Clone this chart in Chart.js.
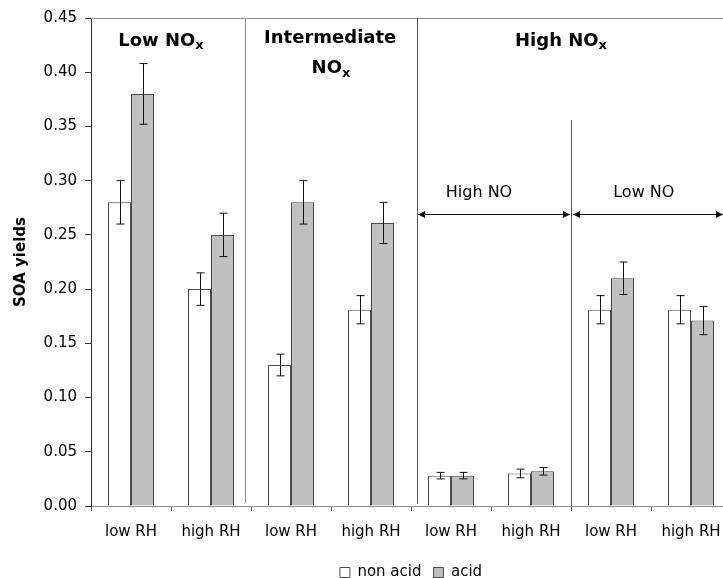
<!DOCTYPE html>
<html>
<head>
<meta charset="utf-8">
<script src="https://cdn.jsdelivr.net/npm/chart.js@4"></script>
<style>
  html, body { margin: 0; padding: 0; overflow: hidden; background: #fff; }
</style>
</head>
<body>
<canvas id="chart" width="745" height="590"></canvas>
<script>
var categories = ["low RH", "high RH", "low RH", "high RH", "low RH", "high RH", "low RH", "high RH"];
var nonAcid = [0.28, 0.20, 0.13, 0.181, 0.028, 0.030, 0.181, 0.181];
var acid = [0.38, 0.25, 0.28, 0.261, 0.028, 0.032, 0.21, 0.171];
var nonAcidErr = [0.02, 0.015, 0.01, 0.013, 0.003, 0.004, 0.013, 0.013];
var acidErr = [0.028, 0.02, 0.02, 0.019, 0.003, 0.0035, 0.015, 0.013];
var yTicks = [0, 0.05, 0.10, 0.15, 0.20, 0.25, 0.30, 0.35, 0.40, 0.45];

var FONT = "'DejaVu Sans', sans-serif";

// error bars on top of each bar
var errorBars = {
  id: "errorBars",
  afterDatasetsDraw: function (chart) {
    var ctx = chart.ctx;
    var y = chart.scales.y;
    var errs = [nonAcidErr, acidErr];
    ctx.save();
    ctx.strokeStyle = "#111";
    ctx.lineWidth = 1;
    chart.data.datasets.forEach(function (ds, d) {
      var meta = chart.getDatasetMeta(d);
      meta.data.forEach(function (bar, i) {
        var v = ds.data[i];
        var e = errs[d][i];
        var x = Math.round(bar.x) + 0.5;
        var top = y.getPixelForValue(v + e);
        var bot = y.getPixelForValue(v - e);
        ctx.beginPath();
        ctx.moveTo(x, top); ctx.lineTo(x, bot);
        ctx.moveTo(x - 4, top); ctx.lineTo(x + 4, top);
        ctx.moveTo(x - 4, bot); ctx.lineTo(x + 4, bot);
        ctx.stroke();
      });
    });
    ctx.restore();
  }
};

function arrowHead(ctx, x, y, dir) {
  ctx.beginPath();
  ctx.moveTo(x, y);
  ctx.lineTo(x - dir * 7, y - 3.5);
  ctx.lineTo(x - dir * 7, y + 3.5);
  ctx.closePath();
  ctx.fill();
}

function subTitle(ctx, text, cx, cy) {
  ctx.font = "bold 18px " + FONT;
  var w1 = ctx.measureText(text).width;
  ctx.font = "bold 13px " + FONT;
  var w2 = ctx.measureText("x").width;
  var x0 = cx - (w1 + w2) / 2;
  ctx.textAlign = "left";
  ctx.textBaseline = "middle";
  ctx.font = "bold 18px " + FONT;
  ctx.fillText(text, x0, cy);
  ctx.font = "bold 13px " + FONT;
  ctx.fillText("x", x0 + w1, cy + 5);
}

// frame, separators, group titles and arrows
var decorations = {
  id: "decorations",
  afterDraw: function (chart) {
    var ctx = chart.ctx;
    var xs = chart.scales.x;
    var ys = chart.scales.y;
    var area = chart.chartArea;
    ctx.save();
    ctx.lineWidth = 1;
    ctx.strokeStyle = "#8c8c8c";
    ctx.beginPath();
    ctx.moveTo(area.left, area.top + 0.5);
    ctx.lineTo(area.right, area.top + 0.5);
    ctx.stroke();

    function vline(v, y0, y1, color) {
      var px = Math.round(xs.getPixelForValue(v)) + 0.5;
      ctx.strokeStyle = color;
      ctx.beginPath();
      ctx.moveTo(px, ys.getPixelForValue(y0));
      ctx.lineTo(px, ys.getPixelForValue(y1));
      ctx.stroke();
    }
    vline(1.425, 0.45, 0.003, "#8c8c8c");
    vline(3.575, 0.45, 0.002, "#555");
    vline(5.5, 0.356, 0, "#555");

    // arrows
    ctx.strokeStyle = "#111";
    ctx.fillStyle = "#111";
    var ay = Math.round(ys.getPixelForValue(0.269)) + 0.5;
    var a1 = xs.getPixelForValue(3.575) + 1;
    var a2 = xs.getPixelForValue(5.5) - 1;
    var a3 = xs.getPixelForValue(5.5) + 2;
    var a4 = area.right - 8;
    ctx.beginPath();
    ctx.moveTo(a1, ay); ctx.lineTo(a2, ay);
    ctx.moveTo(a3, ay); ctx.lineTo(a4, ay);
    ctx.stroke();
    arrowHead(ctx, a1, ay, -1);
    arrowHead(ctx, a2, ay, 1);
    arrowHead(ctx, a3, ay, -1);
    arrowHead(ctx, a4, ay, 1);

    ctx.fillStyle = "#000";
    ctx.textAlign = "center";
    ctx.textBaseline = "middle";
    ctx.font = "16px " + FONT;
    ctx.fillText("High NO", xs.getPixelForValue(4.35), ys.getPixelForValue(0.289));
    ctx.fillText("Low NO", xs.getPixelForValue(6.41), ys.getPixelForValue(0.289));

    subTitle(ctx, "Low NO", xs.getPixelForValue(0.375), ys.getPixelForValue(0.4288));
    ctx.textAlign = "center";
    ctx.font = "bold 18px " + FONT;
    ctx.fillText("Intermediate", xs.getPixelForValue(2.49), ys.getPixelForValue(0.4315));
    subTitle(ctx, "NO", xs.getPixelForValue(2.5), ys.getPixelForValue(0.4035));
    subTitle(ctx, "High NO", xs.getPixelForValue(5.375), ys.getPixelForValue(0.4288));
    ctx.restore();
  }
};

var ctx = document.getElementById("chart").getContext("2d");
var chart = new Chart(ctx, {
  type: "bar",
  data: {
    labels: categories,
    datasets: [
      {
        label: "non acid",
        data: nonAcid,
        backgroundColor: "#ffffff",
        borderColor: "#4a4a4a",
        borderWidth: 1,
        categoryPercentage: 0.575,
        barPercentage: 1.0
      },
      {
        label: "acid",
        data: acid,
        backgroundColor: "#c0c0c0",
        borderColor: "#4a4a4a",
        borderWidth: 1,
        categoryPercentage: 0.575,
        barPercentage: 1.0
      }
    ]
  },
  options: {
    responsive: false,
    animation: false,
    layout: { padding: { left: 0, right: 14, top: 18, bottom: 0 } },
    plugins: {
      legend: {
        position: "bottom",
        fullSize: false,
        labels: {
          boxWidth: 10,
          boxHeight: 10,
          padding: 12,
          color: "#000",
          font: { family: FONT, size: 15 }
        }
      },
      tooltip: { enabled: false }
    },
    scales: {
      x: {
        grid: { drawOnChartArea: false, tickLength: 5, color: "#555", offset: true },
        border: { color: "#8c8c8c" },
        ticks: { color: "#000", padding: 12, font: { family: FONT, size: 15 } },
        afterFit: function (scale) { scale.height = 47; }
      },
      y: {
        min: 0,
        max: 0.45,
        afterBuildTicks: function (scale) {
          scale.ticks = yTicks.map(function (v) { return { value: v }; });
        },
        grid: { drawOnChartArea: false, tickLength: 6, color: "#333" },
        border: { color: "#333" },
        ticks: {
          color: "#000",
          padding: 8,
          font: { family: FONT, size: 15 },
          callback: function (v) { return Number(v).toFixed(2); }
        },
        title: {
          display: true,
          text: "SOA yields",
          color: "#000",
          padding: { top: 12, bottom: 4 },
          font: { family: FONT, size: 15, weight: "bold" }
        },
        afterFit: function (scale) { scale.width = 91; }
      }
    }
  },
  plugins: [errorBars, decorations]
});
</script>
</body>
</html>
